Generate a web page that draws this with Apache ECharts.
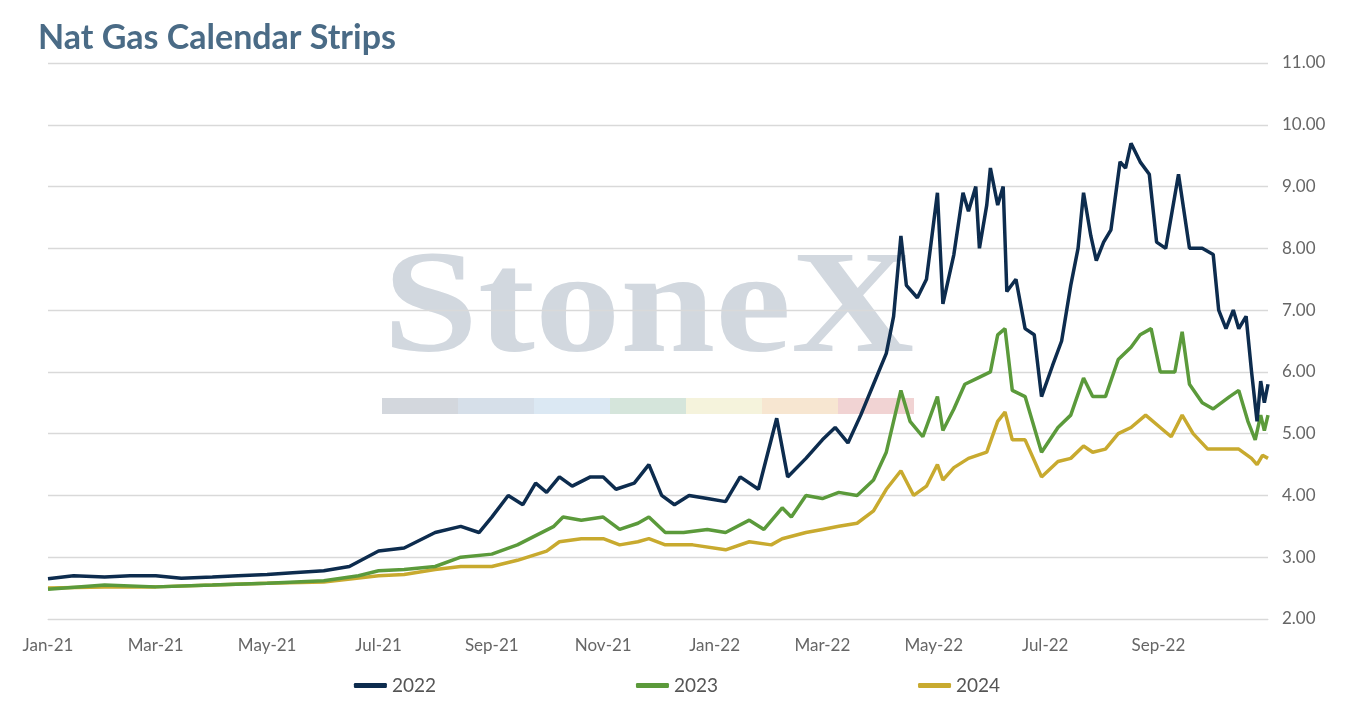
<!DOCTYPE html>
<html><head><meta charset="utf-8">
<script src="https://cdn.jsdelivr.net/npm/echarts@6/dist/echarts.min.js"></script>
<style>html,body{margin:0;padding:0;background:#fff}#c{width:1354px;height:708px}</style>
</head><body><div id="c"></div>
<script>
const seriesNames = ['2022','2023','2024'];
const s2022 = [
['2021-01-01',2.65],['2021-01-15',2.70],['2021-02-01',2.68],['2021-02-15',2.70],['2021-03-01',2.70],['2021-03-15',2.66],['2021-04-01',2.68],['2021-04-15',2.70],['2021-05-01',2.72],['2021-05-15',2.75],['2021-06-01',2.78],['2021-06-15',2.85],['2021-07-01',3.10],['2021-07-15',3.15],['2021-08-01',3.40],['2021-08-15',3.50],['2021-08-25',3.40],['2021-09-01',3.65],['2021-09-10',4.00],['2021-09-18',3.85],['2021-09-25',4.20],['2021-10-01',4.05],['2021-10-08',4.30],['2021-10-15',4.15],['2021-10-25',4.30],['2021-11-01',4.30],['2021-11-08',4.10],['2021-11-18',4.20],['2021-11-26',4.50],['2021-12-03',4.00],['2021-12-10',3.85],['2021-12-18',4.00],['2021-12-28',3.95],['2022-01-07',3.90],['2022-01-15',4.30],['2022-01-25',4.10],['2022-02-04',5.25],['2022-02-10',4.30],['2022-02-20',4.60],['2022-03-01',4.90],['2022-03-08',5.10],['2022-03-15',4.85],['2022-03-22',5.30],['2022-03-29',5.80],['2022-04-05',6.30],['2022-04-09',6.90],['2022-04-13',8.20],['2022-04-16',7.40],['2022-04-22',7.20],['2022-04-27',7.50],['2022-05-03',8.90],['2022-05-06',7.10],['2022-05-12',7.90],['2022-05-17',8.90],['2022-05-20',8.60],['2022-05-24',9.00],['2022-05-26',8.00],['2022-05-30',8.70],['2022-06-01',9.30],['2022-06-05',8.70],['2022-06-08',9.00],['2022-06-10',7.30],['2022-06-15',7.50],['2022-06-20',6.70],['2022-06-25',6.60],['2022-06-29',5.60],['2022-07-05',6.10],['2022-07-10',6.50],['2022-07-15',7.40],['2022-07-19',8.00],['2022-07-22',8.90],['2022-07-26',8.20],['2022-07-29',7.80],['2022-08-02',8.10],['2022-08-06',8.30],['2022-08-11',9.40],['2022-08-14',9.30],['2022-08-17',9.70],['2022-08-22',9.40],['2022-08-27',9.20],['2022-08-31',8.10],['2022-09-05',8.00],['2022-09-12',9.20],['2022-09-18',8.00],['2022-09-25',8.00],['2022-10-01',7.90],['2022-10-04',7.00],['2022-10-08',6.70],['2022-10-12',7.00],['2022-10-15',6.70],['2022-10-19',6.90],['2022-10-22',6.00],['2022-10-25',5.20],['2022-10-27',5.85],['2022-10-29',5.50],['2022-10-31',5.80]];
const s2023 = [
['2021-01-01',2.48],['2021-02-01',2.55],['2021-03-01',2.52],['2021-04-01',2.55],['2021-05-01',2.58],['2021-06-01',2.62],['2021-06-20',2.70],['2021-07-01',2.78],['2021-07-15',2.80],['2021-08-01',2.85],['2021-08-15',3.00],['2021-09-01',3.05],['2021-09-15',3.20],['2021-09-25',3.35],['2021-10-05',3.50],['2021-10-10',3.65],['2021-10-20',3.60],['2021-11-01',3.65],['2021-11-10',3.45],['2021-11-20',3.55],['2021-11-26',3.65],['2021-12-05',3.40],['2021-12-15',3.40],['2021-12-28',3.45],['2022-01-07',3.40],['2022-01-20',3.60],['2022-01-28',3.45],['2022-02-07',3.80],['2022-02-12',3.65],['2022-02-20',4.00],['2022-03-01',3.95],['2022-03-10',4.05],['2022-03-20',4.00],['2022-03-29',4.25],['2022-04-05',4.70],['2022-04-13',5.70],['2022-04-18',5.20],['2022-04-25',4.95],['2022-05-03',5.60],['2022-05-06',5.05],['2022-05-12',5.40],['2022-05-18',5.80],['2022-05-25',5.90],['2022-06-01',6.00],['2022-06-05',6.60],['2022-06-09',6.70],['2022-06-13',5.70],['2022-06-20',5.60],['2022-06-29',4.70],['2022-07-08',5.10],['2022-07-15',5.30],['2022-07-22',5.90],['2022-07-27',5.60],['2022-08-03',5.60],['2022-08-10',6.20],['2022-08-17',6.40],['2022-08-22',6.60],['2022-08-28',6.70],['2022-09-02',6.00],['2022-09-10',6.00],['2022-09-14',6.65],['2022-09-18',5.80],['2022-09-25',5.50],['2022-10-01',5.40],['2022-10-10',5.60],['2022-10-15',5.70],['2022-10-20',5.20],['2022-10-24',4.90],['2022-10-27',5.30],['2022-10-29',5.05],['2022-10-31',5.30]];
const s2024 = [
['2021-01-01',2.50],['2021-02-01',2.52],['2021-03-01',2.52],['2021-04-01',2.55],['2021-05-01',2.58],['2021-06-01',2.60],['2021-07-01',2.70],['2021-07-15',2.72],['2021-08-01',2.80],['2021-08-15',2.85],['2021-09-01',2.85],['2021-09-15',2.95],['2021-10-01',3.10],['2021-10-08',3.25],['2021-10-20',3.30],['2021-11-01',3.30],['2021-11-10',3.20],['2021-11-20',3.25],['2021-11-26',3.30],['2021-12-05',3.20],['2021-12-20',3.20],['2022-01-07',3.12],['2022-01-20',3.25],['2022-02-01',3.20],['2022-02-07',3.30],['2022-02-20',3.40],['2022-03-01',3.45],['2022-03-10',3.50],['2022-03-20',3.55],['2022-03-29',3.75],['2022-04-05',4.10],['2022-04-13',4.40],['2022-04-20',4.00],['2022-04-27',4.15],['2022-05-03',4.50],['2022-05-06',4.25],['2022-05-12',4.45],['2022-05-20',4.60],['2022-05-30',4.70],['2022-06-05',5.20],['2022-06-09',5.35],['2022-06-13',4.90],['2022-06-20',4.90],['2022-06-29',4.30],['2022-07-08',4.55],['2022-07-15',4.60],['2022-07-22',4.80],['2022-07-27',4.70],['2022-08-03',4.75],['2022-08-10',5.00],['2022-08-17',5.10],['2022-08-25',5.30],['2022-09-02',5.10],['2022-09-08',4.95],['2022-09-14',5.30],['2022-09-20',5.00],['2022-09-28',4.75],['2022-10-08',4.75],['2022-10-15',4.75],['2022-10-22',4.60],['2022-10-25',4.50],['2022-10-28',4.65],['2022-10-31',4.60]];
const colors = ['#0d2c4e','#5b9a3b','#c8aa2f'];
const barColors = ['#d3d7dd','#d6dfe9','#dbe8f3','#d5e5db','#f5f3dc','#f7e6d1','#f1d3d3'];
const chart = echarts.init(document.getElementById('c'));
const graphics = [{type:'text',x:383,y:240,scaleX:1.17,z:-1,style:{text:'StoneX',font:'bold 146px "Liberation Serif", "DejaVu Serif", serif',fill:'#d2d8df'}}];
barColors.forEach((c,i)=>graphics.push({type:'rect',left:382+i*76,top:398,z:-1,shape:{width:76,height:16},style:{fill:c}}));
chart.setOption({
  animation:false,
  color:colors,
  title:{text:'Nat Gas Calendar Strips',left:33,top:16,textStyle:{fontFamily:'Lato',fontWeight:'bold',fontSize:34,color:'#4a6b86'}},
  graphic:graphics,
  legend:{bottom:8,left:'center',itemGap:200,itemWidth:33,itemHeight:5,icon:'roundRect',
    textStyle:{fontFamily:'Lato',fontSize:19,color:'#555'},data:seriesNames},
  grid:{left:48,right:86,top:63,bottom:89},
  xAxis:{type:'time',min:'2021-01-01',max:'2022-10-31',splitNumber:11,
    axisLine:{lineStyle:{color:'#d9d9d9'}},axisTick:{show:false},splitLine:{show:false},
    axisLabel:{formatter:'{MMM}-{yy}',fontFamily:'Lato',fontSize:17,color:'#666',margin:18,hideOverlap:false}},
  yAxis:{type:'value',position:'right',min:2,max:11,interval:1,
    axisLine:{show:false},axisTick:{show:false},
    splitLine:{lineStyle:{color:'#d9d9d9',width:1.3}},
    axisLabel:{formatter:v=>v.toFixed(2),fontFamily:'Lato',fontSize:17,color:'#666',margin:14}},
  series:[s2022,s2023,s2024].map((d,i)=>({name:seriesNames[i],type:'line',data:d,showSymbol:false,
    lineStyle:{width:3.5,color:colors[i]},itemStyle:{color:colors[i]},z:10-i}))
});
</script></body></html>
